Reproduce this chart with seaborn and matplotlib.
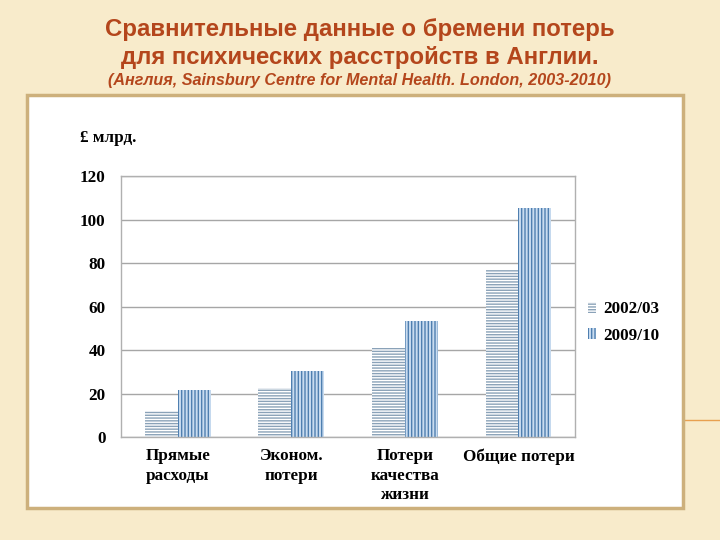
import numpy as np
import pandas as pd
import seaborn as sns
import matplotlib.pyplot as plt
from matplotlib.patches import Rectangle, Patch
from matplotlib.lines import Line2D

# chart values (£ bn)
categories = ["Прямые\nрасходы", "Эконом.\nпотери", "Потери\nкачества\nжизни", "Общие потери"]
years = ["2002/03", "2009/10"]
values_2002 = [12, 22.5, 41, 77]
values_2009 = [21.5, 30.3, 53.5, 105.5]
y_ticks = [0, 20, 40, 60, 80, 100, 120]

df = pd.DataFrame({
    "category": categories * 2,
    "year": [years[0]] * 4 + [years[1]] * 4,
    "value": values_2002 + values_2009,
})

sns.set_style("white")
plt.rcParams["hatch.linewidth"] = 1.0
plt.rcParams["text.color"] = "black"
plt.rcParams["xtick.color"] = "black"
plt.rcParams["ytick.color"] = "black"

fig = plt.figure(figsize=(7.2, 5.4), dpi=100)
fig.patch.set_facecolor("#f8ebcb")

# white frame of the slide
fig.patches.append(Rectangle((0.0375, 0.059), 0.911, 0.765, transform=fig.transFigure,
                             facecolor="white", edgecolor="#cdb07c", linewidth=2.5, zorder=-5))
fig.lines.append(Line2D([0.949, 1.0], [0.222, 0.222], transform=fig.transFigure,
                        color="#e8a050", linewidth=1, zorder=-5))

# titles
title_color = "#b4461c"
fig.text(0.5, 0.946, "Сравнительные данные о бремени потерь", ha="center", va="center",
         fontsize=17.3, fontweight="bold", color=title_color, family="Liberation Sans")
fig.text(0.5, 0.894, "для психических расстройств в Англии.", ha="center", va="center",
         fontsize=17.3, fontweight="bold", color=title_color, family="Liberation Sans")
fig.text(0.5, 0.851, "(Англия, Sainsbury Centre for Mental Health. London, 2003-2010)",
         ha="center", va="center", fontsize=11.6, fontweight="bold", style="italic",
         color=title_color, family="Liberation Sans")

ax = fig.add_axes([0.168, 0.1907, 0.631, 0.4833])
ax.set_facecolor("white")
sns.barplot(data=df, x="category", y="value", hue="year", ax=ax, width=0.58,
            saturation=1, legend=False)

styles = [
    dict(face="white", hatch_col="#8aa2b8", hatch="------"),
    dict(face="#c9dcf0", hatch_col="#4f7fb0", hatch="|||||"),
]
for cont, st in zip(ax.containers, styles):
    for bar in cont:
        bar.set_facecolor(st["face"])
        bar.set_edgecolor(st["hatch_col"])
        bar.set_hatch(st["hatch"])
        bar.set_linewidth(0)

ax.set_ylim(0, 120)
ax.set_yticks(y_ticks)
ax.yaxis.grid(True, color="#a6a6a6", linewidth=1)
ax.set_axisbelow(True)
for s in ax.spines.values():
    s.set_color("#b0b0b0")
    s.set_linewidth(1)
ax.tick_params(length=0)
ax.set_xlabel("")
ax.set_ylabel("")
for lab in ax.get_yticklabels() + ax.get_xticklabels():
    lab.set_family("Liberation Serif")
    lab.set_fontweight("bold")
    lab.set_fontsize(12.3)
for lab in ax.get_xticklabels():
    lab.set_linespacing(1.3)
ax.tick_params(axis="x", pad=8)
ax.tick_params(axis="y", pad=11)

fig.text(0.111, 0.744, "£ млрд.", ha="left", va="center", family="Liberation Serif",
         fontweight="bold", fontsize=12.3)

handles = [Patch(facecolor=st["face"], edgecolor=st["hatch_col"], hatch=st["hatch"], linewidth=0)
           for st in styles]
leg = fig.legend(handles, years, loc="center left", bbox_to_anchor=(0.795, 0.403),
                 frameon=False, prop={"family": "Liberation Serif", "weight": "bold", "size": 12.3},
                 handlelength=0.5, handleheight=0.6, handletextpad=0.4, labelspacing=0.6)

fig.savefig("out.png", dpi=100, facecolor=fig.get_facecolor())
